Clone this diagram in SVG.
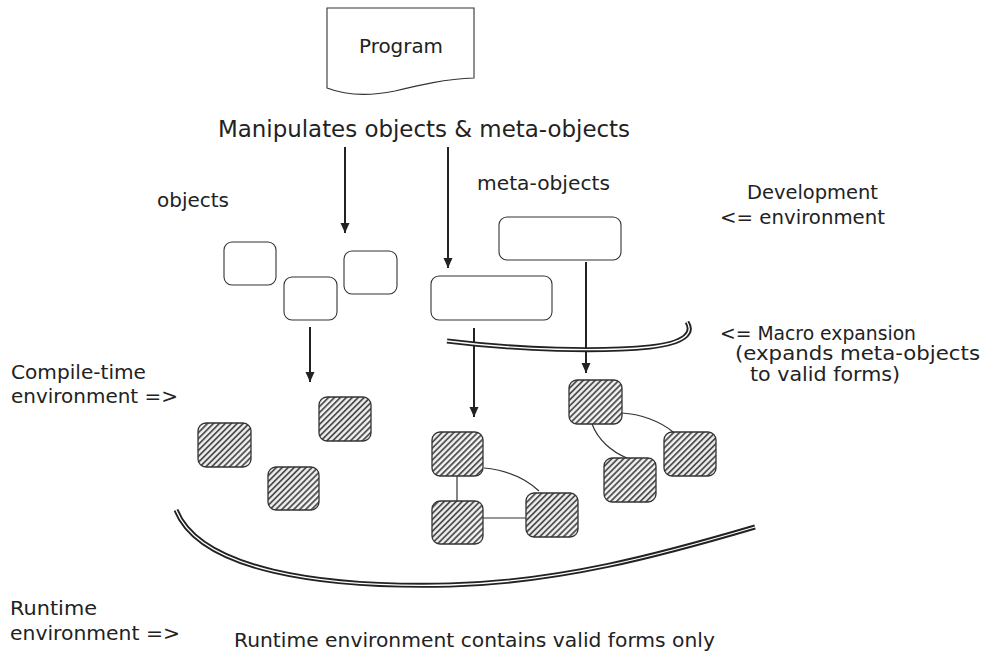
<svg xmlns="http://www.w3.org/2000/svg" width="986" height="653" viewBox="0 0 986 653">
<style>
text{font-family:"DejaVu Sans","Liberation Sans",sans-serif;fill:#222;}
.lbl{font-size:19px;}
.box{fill:#fff;stroke:#333;stroke-width:1.1;}
.hbox{fill:url(#hatch);stroke:#333;stroke-width:1.3;}
.arrow{stroke:#222;stroke-width:2;fill:none;marker-end:url(#ah);}
.link{stroke:#333;stroke-width:1.2;fill:none;}
.dblo{stroke:#222;stroke-width:5;fill:none;stroke-linecap:butt;}
.dbli{stroke:#fff;stroke-width:1.3;fill:none;}
</style>
<defs>
<pattern id="hatch" patternUnits="userSpaceOnUse" width="4.2" height="4.2" patternTransform="rotate(45)">
<rect width="4.2" height="4.2" fill="#f2f2f2"/>
<line x1="1" y1="0" x2="1" y2="4.2" stroke="#444" stroke-width="1.7"/>
</pattern>
<marker id="ah" markerUnits="userSpaceOnUse" markerWidth="10" markerHeight="10" refX="10" refY="4.5" orient="auto">
<path d="M0,0 L10,4.5 L0,9 z" fill="#222"/>
</marker>
</defs>
<rect width="986" height="653" fill="#fff"/>

<g id="program">
<path d="M327,8 H474 V78 C445,79 420,85 395,91 C370,96 345,95 327,88 Z" fill="#fff" stroke="#333" stroke-width="1.1"/>
<text class="lbl" x="359" y="53" textLength="84" lengthAdjust="spacingAndGlyphs">Program</text>
</g>

<g id="labels">
<text x="218" y="137" font-size="23" textLength="412" lengthAdjust="spacingAndGlyphs">Manipulates objects &amp; meta-objects</text>
<text x="157" y="207" font-size="20" textLength="72" lengthAdjust="spacingAndGlyphs">objects</text>
<text x="477" y="190" font-size="20" textLength="133" lengthAdjust="spacingAndGlyphs">meta-objects</text>
<text class="lbl" x="747" y="199" textLength="131" lengthAdjust="spacingAndGlyphs">Development</text>
<text class="lbl" x="720" y="224" textLength="165" lengthAdjust="spacingAndGlyphs">&lt;= environment</text>
<text class="lbl" x="720" y="340" textLength="196" lengthAdjust="spacingAndGlyphs">&lt;= Macro expansion</text>
<text class="lbl" x="735" y="360" textLength="245" lengthAdjust="spacingAndGlyphs">(expands meta-objects</text>
<text class="lbl" x="750" y="381" textLength="150" lengthAdjust="spacingAndGlyphs">to valid forms)</text>
<text class="lbl" x="11" y="379" textLength="135" lengthAdjust="spacingAndGlyphs">Compile-time</text>
<text class="lbl" x="11" y="403" textLength="167" lengthAdjust="spacingAndGlyphs">environment =&gt;</text>
<text class="lbl" x="10" y="615" textLength="87" lengthAdjust="spacingAndGlyphs">Runtime</text>
<text class="lbl" x="10" y="640" textLength="170" lengthAdjust="spacingAndGlyphs">environment =&gt;</text>
<text class="lbl" x="234" y="647" textLength="481" lengthAdjust="spacingAndGlyphs">Runtime environment contains valid forms only</text>
</g>

<g id="obj1"><rect class="box" x="224" y="242" width="52" height="43" rx="8"/></g>
<g id="obj2"><rect class="box" x="284" y="277" width="53" height="43" rx="8"/></g>
<g id="obj3"><rect class="box" x="344" y="251" width="53" height="43" rx="8"/></g>
<g id="meta1"><rect class="box" x="431" y="276" width="121" height="44" rx="8"/></g>
<g id="meta2"><rect class="box" x="499" y="217" width="122" height="43" rx="8"/></g>

<g id="h1"><rect class="hbox" x="198" y="423" width="53" height="44" rx="8"/></g>
<g id="h2"><rect class="hbox" x="268" y="467" width="51" height="43" rx="8"/></g>
<g id="h3"><rect class="hbox" x="319" y="397" width="52" height="44" rx="8"/></g>
<g id="h4"><rect class="hbox" x="432" y="432" width="51" height="44" rx="8"/></g>
<g id="h5"><rect class="hbox" x="432" y="501" width="51" height="43" rx="8"/></g>
<g id="h6"><rect class="hbox" x="526" y="493" width="52" height="44" rx="8"/></g>
<g id="h7"><rect class="hbox" x="569" y="380" width="53" height="44" rx="8"/></g>
<g id="h8"><rect class="hbox" x="664" y="432" width="52" height="44" rx="8"/></g>
<g id="h9"><rect class="hbox" x="604" y="458" width="52" height="44" rx="8"/></g>

<g id="connectors">
<line class="arrow" x1="345" y1="147" x2="345" y2="233"/>
<line class="arrow" x1="448" y1="147" x2="448" y2="268"/>
<line class="arrow" x1="310" y1="327" x2="310" y2="382"/>
<line class="arrow" x1="586" y1="262" x2="586" y2="373"/>
<line class="arrow" x1="474" y1="328" x2="474" y2="417"/>
<line class="link" x1="457" y1="476" x2="457" y2="501"/>
<line class="link" x1="483" y1="518" x2="526" y2="518"/>
<path class="link" d="M484,468 C505,470 525,478 539,491"/>
<path class="link" d="M622,413 C640,414 660,421 673,432"/>
<path class="link" d="M592,424 C598,440 612,452 627,458"/>
<path class="dblo" d="M447,341 C520,350 600,352 650,347 C685,343 694,333 687,322"/>
<path class="dbli" d="M447,341 C520,350 600,352 650,347 C685,343 694,333 687,322"/>
<path class="dblo" d="M176,510 C200,570 320,588 450,585 C560,582 660,555 755,527"/>
<path class="dbli" d="M176,510 C200,570 320,588 450,585 C560,582 660,555 755,527"/>
</g>
</svg>
